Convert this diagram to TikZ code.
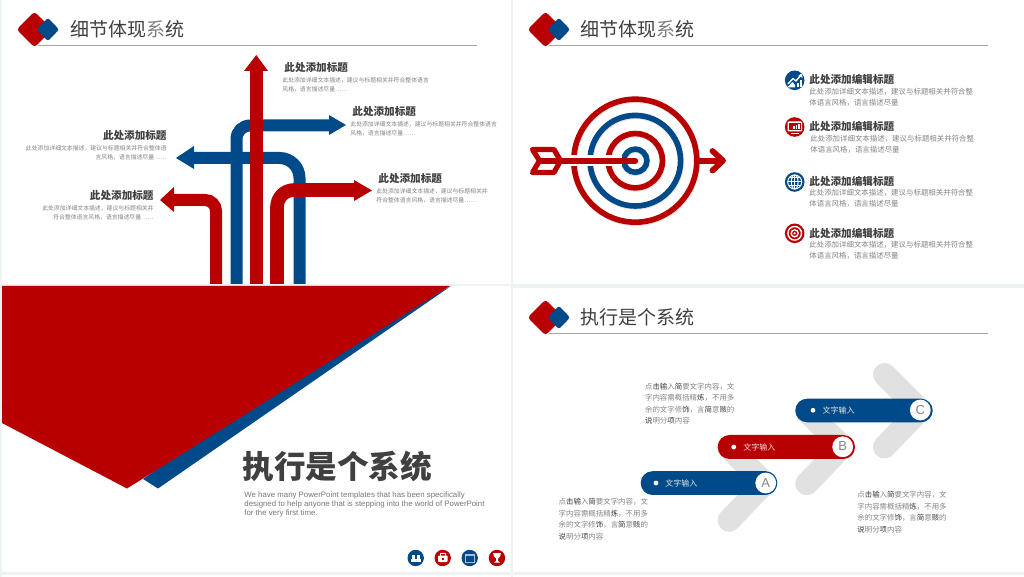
\documentclass[tikz,border=0pt]{standalone}
\usepackage{fontspec}
\usetikzlibrary{calc}
\setmainfont{Noto Sans CJK SC}
\newfontfamily\enfont{Liberation Sans}
\definecolor{myred}{HTML}{B90000}
\definecolor{myblue}{HTML}{004A8A}
\definecolor{bgc}{HTML}{EDF2F2}
\definecolor{tdark}{HTML}{404040}
\definecolor{tgray}{HTML}{858585}
\definecolor{chev}{HTML}{E1E1E1}
\tikzset{
  x=0.5pt,y=-0.5pt,
  panel/.style={fill=white,draw=none},
  hd/.style={inner sep=0pt,font=\fontsize{5.3}{6}\selectfont\bfseries,text=tdark},
  bodys/.style={inner sep=0pt,font=\fontsize{2.93}{4.4}\selectfont,text=tgray},
  bodym/.style={inner sep=0pt,font=\fontsize{3.72}{5.6}\selectfont,text=tgray},
  bodyw/.style={inner sep=0pt,font=\fontsize{3.72}{5.75}\selectfont,text=tgray},
  ttl/.style={inner sep=0pt,anchor=west,font=\fontsize{9.5}{11}\selectfont,text=tdark},
  rib/.style={line width=#1,line join=miter},
  chevron/.style={draw=chev,line width=11.5pt,line cap=round,line join=round},
  ringr/.style={draw=myred,line width=2.8pt},
  ringb/.style={draw=myblue,line width=2.8pt},
  ico/.style={draw=white,line width=0.5pt},
  pilltext/.style={inner sep=0pt,anchor=west,text=white!80!gray,font=\fontsize{4}{5}\selectfont},
  letter/.style={inner sep=0pt,text=tgray,font=\enfont\fontsize{6.5}{7}\selectfont},
}
\newcommand{\dk}[1]{\textcolor{tdark}{#1}}
\newcommand{\lgt}[1]{\textcolor{gray}{#1}}
\newcommand{\logomark}[3]{%
  \fill[myred,rounded corners=1.5pt] (#1-17.8,#2)--(#1,#2-17.8)--(#1+17.8,#2)--(#1,#2+17.8)--cycle;
  \fill[myblue,rounded corners=1.2pt] (#1+2.2,#2)--(#1+13.4,#2-11.7)--(#1+24.6,#2)--(#1+13.4,#2+11.7)--cycle;
  \draw[gray!70,line width=0.45pt] (#1+3,#2+15.7)--(#3,#2+15.7);
}
\newcommand{\practice}[2]{%
  \node[bodyw,anchor=west,align=left] at (#1,#2) {点\dk{击输}入\dk{简}要文字内容，文\\字内容需概括精\dk{炼}，不用多\\余的文字修\dk{饰}，言\dk{简}意\dk{赅}的\\\dk{说}明分\dk{项}内容};
}
\begin{document}
\begin{tikzpicture}
\useasboundingbox (0,0) rectangle (1024,577);
\fill[bgc] (0,0) rectangle (1024,577);
\fill[panel] (2,0) rectangle (511,284);
\fill[panel] (513,0) rectangle (1024,284);
\fill[panel] (2,286) rectangle (511,572);
\fill[panel] (513,288) rectangle (1024,572);
\fill[panel] (2,575) rectangle (511,577);
\fill[panel] (513,575) rectangle (1024,577);

% ---------- panel 1
\logomark{34.5}{29.5}{477}
\node[ttl] at (70,29) {细节体\dk{现}\lgt{系}\dk{统}};
% red left
\draw[myred,rib=6pt,rounded corners=5.5pt] (216,284)--(216,200)--(172,200);
\fill[myred] (174,187)--(160,200)--(174,212)--cycle;
% blue up right
\draw[myblue,rib=6pt,rounded corners=6.75pt] (236.5,284)--(236.5,125.5)--(331,125.5);
\fill[myblue] (329,115)--(346,125)--(329,135)--cycle;
% blue left
\draw[myblue,rib=6pt,rounded corners=10pt] (299.5,284)--(299.5,158)--(192,158);
\fill[myblue] (194,146)--(176,158)--(194,169)--cycle;
% red right
\draw[myred,rib=6.8pt,rounded corners=8.5pt] (277,284)--(277,190)--(356,190);
\fill[myred] (354,180)--(372,190.5)--(354,201)--cycle;
% red centre
\fill[myred] (250,284) rectangle (263,70);
\fill[myred] (244,71)--(256.3,55)--(268,71)--cycle;
% texts
\node[hd,anchor=west] at (284,68) {此处添加标题};
\node[bodys,anchor=west,align=left] at (282,85) {此处添加详细文本描述，建议与标题相关并符合整体语言\\风格，语言描述尽量……};
\node[hd,anchor=west] at (352,112) {此处添加标题};
\node[bodys,anchor=west,align=left] at (350,128.5) {此处添加详细文本描述，建议与标题相关并符合整体语言\\风格，语言描述尽量……};
\node[hd,anchor=east] at (167,135.5) {此处添加标题};
\node[bodys,anchor=east,align=right] at (167,152.5) {此处添加详细文本描述，建议与标题相关并符合整体语\\言风格，语言描述尽量……};
\node[hd,anchor=east] at (154,196) {此处添加标题};
\node[bodys,anchor=east,align=right] at (154,213) {此处添加详细文本描述，建议与标题相关并\\符合整体语言风格，语言描述尽量……};
\node[hd,anchor=west] at (378,179) {此处添加标题};
\node[bodys,anchor=west,align=left] at (376,196) {此处添加详细文本描述，建议与标题相关并\\符合整体语言风格，语言描述尽量……};

% ---------- panel 2
\logomark{545.5}{29.5}{988}
\node[ttl] at (580.5,29) {细节体\dk{现}\lgt{系}\dk{统}};
\coordinate (tc) at (635.3,160.7);
\foreach \r in {61.5,45.3,27.2,11.6}{\draw[black!10,line width=3.1pt] ($(tc)+(0.4,0.8)$) circle[radius=\r];}
\draw[ringr] (tc) circle[radius=61.5];
\draw[ringb] (tc) circle[radius=45.3];
\draw[ringr] (tc) circle[radius=27.2];
\draw[ringb] (tc) circle[radius=11.6];
% halo and shaft
\draw[white,line width=5.2pt] (562,160.7)--(622,160.7);
\draw[myred,line width=2.9pt,line cap=round] (540,160.7)--(tc);
\draw[myred,line width=2.6pt,line join=round,fill=white] (532.5,149.5)--(554,149.5)--(560.5,160.7)--(554,172.5)--(532.5,172.5)--(539.5,160.7)--cycle;
\draw[myred,line width=2.9pt] (538,160.7)--(562,160.7);
\draw[myred,line width=2.9pt] (697,160.7)--(722,160.7);
\draw[myred,line width=2.9pt,line cap=round,line join=round] (712.5,151)--(723,160.7)--(712.5,170.5);
% items
\fill[myblue] (794.7,80.3) circle[radius=9.8];
\draw[ico,line width=0.7pt,line join=round] (788,84)--(793,78.5)--(796,81)--(800.5,75.5);
\fill[white] (802,73.5)--(802.5,78)--(798.5,75.5)--cycle;
\fill[white] (787,87.5)--(792.5,82)--(795,85)--(795,87.5)--cycle;
\fill[white] (796.5,87.5) rectangle (798.8,83.5);
\fill[white] (799.8,87) rectangle (802,80.5);
\fill[myred] (794.7,127) circle[radius=9.8];
\fill[white,rounded corners=0.5pt] (787.5,121.5) rectangle (802,131.5);
\fill[myred] (788.7,122.7) rectangle (800.8,130.3);
\fill[white] (793,126.5) rectangle (794.6,129.5);
\fill[white] (795.6,125.3) rectangle (797.2,129.5);
\fill[white] (798.2,124) rectangle (799.8,129.5);
\fill[white] (791,132.6) rectangle (798.5,133.6);
\fill[myblue] (794.7,182) circle[radius=9.8];
\draw[ico] (794.7,182) circle[radius=7];
\draw[ico] (794.7,182) ellipse[x radius=3.4,y radius=7];
\draw[ico] (787.7,182)--(801.7,182) (789,178)--(800.4,178) (789,186)--(800.4,186) (794.7,175)--(794.7,189);
\fill[myred] (794.7,233.3) circle[radius=9.8];
\draw[ico,line width=0.7pt] (794.7,233.3) circle[radius=6.8];
\draw[ico,line width=0.7pt] (794.7,233.3) circle[radius=3.5];
\fill[white] (794.7,233.3) circle[radius=1.2];
\node[hd,anchor=west] at (809,79) {此处添加编辑标题};
\node[bodym,anchor=west,align=left] at (809,97.5) {此处添加详细文本描述，建议与标题相关并符合整\\体语言风格，语言描述尽量};
\node[hd,anchor=west] at (809,126.5) {此处添加编辑标题};
\node[bodym,anchor=west,align=left] at (810,144.5) {此处添加详细文本描述，建议与标题相关并符合整\\体语言风格，语言描述尽量};
\node[hd,anchor=west] at (809,181.5) {此处添加编辑标题};
\node[bodym,anchor=west,align=left] at (809,198) {此处添加详细文本描述，建议与标题相关并符合整\\体语言风格，语言描述尽量};
\node[hd,anchor=west] at (809,233) {此处添加编辑标题};
\node[bodym,anchor=west,align=left] at (809,250) {此处添加详细文本描述，建议与标题相关并符合整\\体语言风格，语言描述尽量};

% ---------- panel 3
\fill[myblue] (451,286)--(158,488.5)--(143,479)--(300,370)--cycle;
\fill[myred] (2,286)--(450,286)--(127,488.5)--(2,423)--cycle;
\draw[black!12!myred,line width=0.3pt] (2,406)--(127,488);
\node[inner sep=0pt,anchor=west,text=tdark,font=\fontsize{15.8}{18}\selectfont\bfseries] at (242,466) {执行是个系统};
\node[inner sep=0pt,anchor=west,align=left,text=tgray!90!black,font=\enfont\fontsize{3.92}{4.5}\selectfont] at (244,504.3) {We have many PowerPoint templates that has been specifically\\designed to help anyone that is stepping into the world of PowerPoint\\for the very first time.};
\fill[myblue] (415.7,558) circle[radius=8.2];
\fill[white] (411.5,554.5) rectangle (414.5,558.5);
\fill[white] (416.5,554.5) rectangle (419.5,558.5);
\fill[white] (411,559) rectangle (420.5,562);
\fill[myred] (442.7,558) circle[radius=8.2];
\fill[white,rounded corners=0.4pt] (438,555.5) rectangle (447.5,562);
\draw[white,line width=0.4pt] (440.5,555.5)--(440.5,553.7)--(445,553.7)--(445,555.5);
\fill[myred] (442,558) rectangle (443.5,559.5);
\fill[myblue] (469.7,558) circle[radius=8.2];
\fill[white!65!myblue] (465,553.5) rectangle (474.5,562.5);
\fill[myblue] (466,556) rectangle (473.5,561.5);
\fill[myred] (497,558) circle[radius=8.2];
\fill[white] (493,553) -- (501,553) -- (500,556.5) -- (498,558.5) -- (498,561) -- (500,562.5) -- (494,562.5) -- (496,561) -- (496,558.5) -- (494,556.5) -- cycle;

% ---------- panel 4
\logomark{545.5}{317.5}{988}
\node[ttl] at (580.5,317) {\dk{执}行是个系\dk{统}};
\foreach \dx/\dy in {-155.4/73.3,-77.7/36.7,0/0}{
  \draw[chevron] (884.5+\dx,374.5+\dy)--(920+\dx,410+\dy)--(884.5+\dx,447+\dy);
}
\fill[myblue,rounded corners=5.9pt] (640.7,471.2) rectangle (777.3,495);
\fill[myred,rounded corners=5.9pt] (717.7,435) rectangle (855,459);
\fill[myblue,rounded corners=5.9pt] (795.3,398.7) rectangle (932.7,422.3);
\fill[white] (765.7,483) circle[radius=10.4];
\fill[white] (842.7,446.8) circle[radius=10.4];
\fill[white] (920.3,410) circle[radius=10.4];
\fill[white] (656,483) circle[radius=2.4];
\fill[white] (733.7,447) circle[radius=2.4];
\fill[white] (813,410.3) circle[radius=2.4];
\node[pilltext] at (665,483) {文字输入};
\node[pilltext] at (743,447) {文字输入};
\node[pilltext] at (822.3,410.3) {文字输入};
\node[letter] at (765.7,483) {A};
\node[letter] at (842.7,446.5) {B};
\node[letter] at (920.3,410) {C};
\practice{644.7}{403.5}
\practice{558.3}{519}
\practice{857}{512.3}
\end{tikzpicture}
\end{document}
